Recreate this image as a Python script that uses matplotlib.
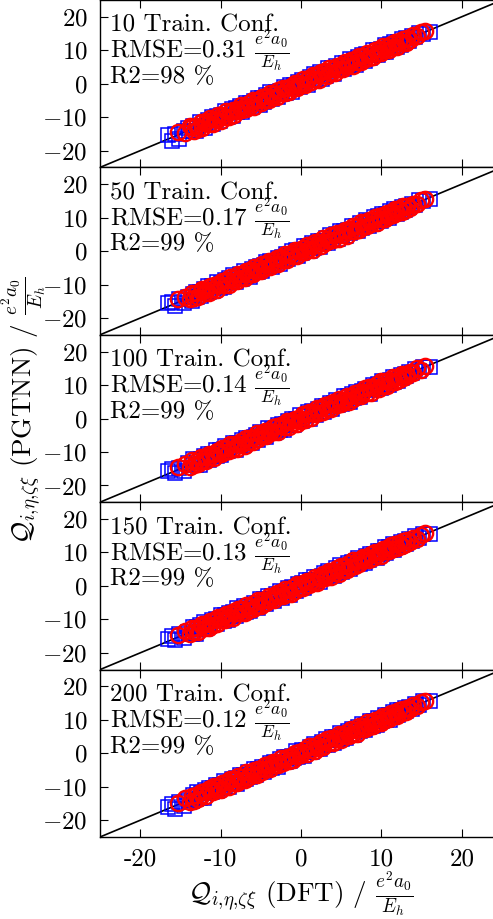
import numpy as np
import matplotlib
matplotlib.use("Agg")
import matplotlib.pyplot as plt

# -----------------------------
# Data
# -----------------------------
TRAIN_CONF = [10, 50, 100, 150, 200]
RMSE = [0.31, 0.17, 0.14, 0.13, 0.12]
R2 = [98, 99, 99, 99, 99]

# DFT reference values, set A (blue squares)
blue_dft = [
    -16.6, -16.1, -15.7, -15.2, -14.6, -14.1, -13.6, -13.4, -13.1, -12.9,
    -12.6, -12.4, -12.1, -11.9, -11.6, -11.4, -11.1, -10.9, -10.6, -10.4,
    -10.1, -9.9, -9.6, -9.4, -9.1, -8.9, -8.6, -8.4, -8.1, -7.9,
    -7.6, -7.4, -7.1, -6.9, -6.6, -6.4, -6.1, -5.9, -5.6, -5.4,
    -5.1, -4.9, -4.6, -4.4, -4.1, -3.9, -3.6, -3.4, -3.1, -2.9,
    -2.6, -2.4, -2.1, -1.9, -1.6, -1.4, -1.1, -0.9, -0.6, -0.4,
    -0.1, 0.1, 0.4, 0.6, 0.9, 1.1, 1.4, 1.6, 1.9, 2.1,
    2.4, 2.6, 2.9, 3.1, 3.4, 3.6, 3.9, 4.1, 4.4, 4.6,
    4.9, 5.1, 5.4, 5.6, 5.9, 6.1, 6.4, 6.6, 6.9, 7.1,
    7.4, 7.6, 7.9, 8.1, 8.4, 8.6, 8.9, 9.1, 9.4, 9.6,
    9.9, 10.1, 10.4, 10.6, 10.9, 11.1, 11.4, 11.6, 11.9, 12.1,
    12.4, 12.6, 12.9, 13.1, 13.4, 13.8, 14.2, 14.7, 15.2, 16.1,
]

# DFT reference values, set B (red circles)
red_dft = [
    -15.3, -14.4, -13.8, -13.5, -13.3, -13.0, -12.8, -12.5, -12.3, -12.0,
    -11.8, -11.5, -11.3, -11.0, -10.8, -10.5, -10.3, -10.0, -9.8, -9.5,
    -9.3, -9.0, -8.8, -8.5, -8.3, -8.0, -7.8, -7.5, -7.3, -7.0,
    -6.8, -6.5, -6.3, -6.0, -5.8, -5.5, -5.3, -5.0, -4.8, -4.5,
    -4.3, -4.0, -3.8, -3.5, -3.3, -3.0, -2.8, -2.5, -2.3, -2.0,
    -1.8, -1.5, -1.3, -1.0, -0.8, -0.5, -0.3, 0.0, 0.2, 0.5,
    0.7, 1.0, 1.2, 1.5, 1.7, 2.0, 2.2, 2.5, 2.7, 3.0,
    3.2, 3.5, 3.7, 4.0, 4.2, 4.5, 4.7, 5.0, 5.2, 5.5,
    5.7, 6.0, 6.2, 6.5, 6.7, 7.0, 7.2, 7.5, 7.7, 8.0,
    8.2, 8.5, 8.7, 9.0, 9.2, 9.5, 9.7, 10.0, 10.2, 10.5,
    10.7, 11.0, 11.2, 11.5, 11.7, 12.0, 12.2, 12.5, 12.7, 13.0,
    13.2, 13.5, 13.9, 14.4, 14.9, 15.4,
]

# PGTNN minus DFT, per training-set size
blue_err_10 = [
    1.2, -0.9, 0.7, -1.3, 0.4, 1.0, -0.6, 0.9, -1.1, 0.3,
    1.1, -0.8, 0.5, -1.2, 0.9, -0.4, 1.3, -1.0, 0.2, 0.8,
    -1.1, 0.6, -0.3, 1.2, -0.9, 0.4, 1.0, -1.3, 0.7, -0.5,
    0.9, -1.1, 0.3, 1.2, -0.7, 0.5, -1.0, 0.8, -0.2, 1.1,
    -1.2, 0.6, -0.8, 1.0, -0.4, 1.3, -0.9, 0.2, 0.7, -1.1,
    0.5, -0.6, 1.2, -1.0, 0.3, 0.9, -1.3, 0.6, -0.3, 1.0,
    -0.8, 1.1, -0.5, 0.4, -1.2, 0.8, -0.2, 1.2, -0.9, 0.5,
    1.0, -1.1, 0.3, -0.7, 1.3, -0.4, 0.7, -1.2, 0.9, -0.6,
    0.2, 1.1, -1.0, 0.6, -0.3, 1.2, -0.8, 0.4, -1.3, 0.9,
    -0.5, 1.0, -1.1, 0.7, 0.3, -0.9, 1.2, -0.4, 0.8, -1.0,
    0.6, -0.7, 1.1, -1.2, 0.4, 0.9, -0.5, 1.0, -0.9, 0.3,
    -0.8, 0.7, -0.4, 0.6, -0.5, 0.4, -0.3, 0.5, -0.4, -0.6,
]
blue_err_50 = [
    1.1, 0.8, -0.6, 0.9, -1.0, 0.5, -1.2, 0.7, 1.0, -0.8,
    0.4, -1.1, 0.9, -0.3, 1.2, -0.7, 0.6, -1.0, 0.2, 1.1,
    -0.9, 0.5, -1.2, 0.8, -0.4, 1.0, -0.6, 1.3, -1.1, 0.3,
    0.7, -0.9, 1.1, -0.5, 0.2, -1.2, 0.9, -0.3, 1.0, -0.8,
    0.6, -1.0, 0.4, 1.2, -0.7, 0.8, -1.1, 0.5, -0.2, 0.9,
    -1.3, 0.7, -0.5, 1.1, -0.9, 0.3, 1.0, -0.6, 0.8, -1.0,
    0.4, -0.8, 1.2, -0.3, 0.6, -1.1, 0.9, -0.7, 0.2, 1.0,
    -1.2, 0.5, -0.4, 0.9, -1.0, 1.1, -0.6, 0.3, 0.8, -0.9,
    1.2, -0.5, 0.7, -1.1, 0.4, -0.8, 1.0, -0.3, 0.6, -1.2,
    0.9, -0.6, 0.3, 1.1, -1.0, 0.5, -0.7, 1.2, -0.4, 0.8,
    -0.9, 1.0, -0.5, 0.6, -1.1, 0.8, -0.2, 0.9, -0.8, 0.4,
    -0.6, 0.7, -0.5, 0.5, -0.3, 0.4, -0.5, 0.6, -0.3, -0.4,
]
blue_err_100 = [
    0.9, 1.0, -0.7, 0.5, -1.1, 0.8, -0.4, 1.2, -0.9, 0.6,
    -1.2, 0.3, 1.0, -0.6, 0.9, -1.0, 0.4, -0.3, 1.1, -0.8,
    0.7, -1.1, 0.5, 1.2, -0.5, 0.2, -0.9, 1.0, -1.2, 0.6,
    -0.4, 0.9, -0.8, 1.1, -0.2, 0.7, -1.3, 0.5, 0.8, -1.0,
    1.0, -0.6, 0.3, -1.1, 1.2, -0.4, 0.6, -0.9, 0.4, 1.1,
    -0.7, 0.8, -1.2, 0.2, 0.9, -0.5, 1.1, -1.0, 0.6, -0.3,
    1.2, -0.8, 0.4, -0.6, 1.0, -1.1, 0.7, 0.3, -0.9, 0.8,
    -0.5, 1.1, -1.0, 0.6, -0.2, 0.9, -1.2, 0.5, 1.0, -0.7,
    0.3, -0.9, 1.2, -0.4, 0.7, -1.1, 0.8, -0.6, 1.1, -0.3,
    -1.0, 0.6, 0.9, -0.8, 0.4, -1.2, 1.0, -0.5, 0.2, 0.8,
    -0.9, 1.1, -0.4, 0.7, -1.0, 0.5, 0.9, -0.7, 0.6, -0.8,
    0.5, -0.6, 0.4, -0.5, 0.6, -0.3, 0.5, -0.4, 0.3, -0.6,
]
blue_err_150 = [
    0.8, 1.1, -0.6, 0.7, -1.0, 0.4, -0.8, 1.1, -1.2, 0.5,
    0.9, -0.4, 1.2, -1.0, 0.3, -0.7, 1.0, -0.5, 0.8, -1.1,
    0.2, 1.1, -0.9, 0.6, -1.2, 0.9, -0.3, 0.5, -1.0, 1.2,
    -0.6, 0.4, 1.0, -0.8, 0.7, -1.1, 0.3, 0.9, -0.5, -1.2,
    1.1, -0.3, 0.6, -0.9, 1.2, -0.7, 0.5, -1.0, 0.8, -0.2,
    1.0, -1.1, 0.4, -0.6, 0.9, -1.3, 0.7, 0.2, -0.8, 1.1,
    -0.5, 0.8, -1.0, 1.2, -0.4, 0.6, -0.9, 1.0, -0.3, 0.7,
    -1.2, 0.5, 0.9, -0.7, 1.1, -0.2, 0.4, -1.1, 0.8, -0.6,
    1.2, -0.9, 0.3, -0.5, 1.0, -1.0, 0.7, -0.4, 0.6, 1.1,
    -0.8, 0.2, -1.2, 0.9, -0.6, 1.0, -0.3, 0.5, -1.1, 0.8,
    0.4, -0.7, 1.1, -0.9, 0.6, -0.5, 1.0, -0.8, 0.3, -0.6,
    0.7, -0.5, 0.4, -0.6, 0.5, -0.4, 0.6, -0.3, 0.4, -0.5,
]
blue_err_200 = [
    0.7, 0.9, -0.8, 0.6, -1.1, 0.3, -0.7, 1.0, -0.5, 1.2,
    -0.9, 0.5, -1.2, 0.8, -0.3, 1.1, -0.6, 0.4, 1.0, -1.0,
    0.6, -0.4, 1.2, -0.8, 0.2, -1.1, 0.9, -0.5, 0.7, -1.3,
    1.0, -0.2, 0.5, -0.9, 1.1, -0.7, 0.3, 1.2, -1.0, 0.6,
    -0.5, 0.8, -1.1, 0.4, -0.6, 1.0, -0.9, 0.7, 0.2, -1.2,
    0.9, -0.3, 1.1, -0.8, 0.6, -1.0, 0.4, -0.5, 1.2, -0.7,
    0.3, 1.0, -1.2, 0.5, -0.4, 0.8, -0.9, 1.1, -0.6, 0.2,
    -1.0, 0.7, -0.3, 1.2, -0.8, 0.4, 0.9, -1.1, 0.6, -0.5,
    1.1, -0.7, 0.2, -1.0, 0.8, -0.4, 1.0, -1.2, 0.5, 0.7,
    -0.6, 1.2, -0.9, 0.3, -0.5, 1.1, -0.8, 0.6, -1.0, 0.9,
    0.4, -0.6, 1.0, -0.7, 0.5, -1.1, 0.8, -0.4, 0.9, -0.8,
    0.6, -0.4, 0.5, -0.6, 0.3, -0.5, 0.4, -0.4, 0.5, -0.5,
]

red_err_10 = [
    0.9, -0.4, 1.1, 0.7, -0.9, 0.5, -0.7, 1.0, -1.0, 0.3,
    0.8, -0.6, 1.1, -0.9, 0.4, -0.2, 0.9, -1.1, 0.6, -0.5,
    1.0, -0.8, 0.3, 0.7, -1.0, 0.5, -0.4, 1.1, -0.7, 0.2,
    -0.9, 0.8, -0.5, 1.0, -1.1, 0.6, 0.3, -0.8, 0.9, -0.3,
    0.5, -1.0, 1.1, -0.6, 0.2, -0.9, 0.8, -0.4, 1.0, -0.7,
    0.4, -1.1, 0.7, -0.3, 0.9, -0.8, 0.6, -0.5, 1.1, -1.0,
    0.3, 0.8, -0.7, 1.0, -0.4, 0.5, -1.1, 0.9, -0.2, 0.7,
    -0.9, 1.1, -0.6, 0.4, -1.0, 0.8, -0.3, 0.6, -0.8, 1.0,
    -0.5, 0.2, 0.9, -1.1, 0.7, -0.4, 1.0, -0.9, 0.5, -0.6,
    1.1, -0.7, 0.3, -1.0, 0.8, -0.2, 0.6, -0.9, 1.0, -0.5,
    0.4, -0.8, 0.7, -0.6, 0.9, -1.0, 0.5, -0.3, 0.8, -0.7,
    0.5, -0.4, 0.6, -0.3, 0.4, 0.3,
]
red_err_50 = [
    1.0, 0.6, -0.5, 0.9, -0.8, 0.4, -1.0, 0.7, 1.1, -0.6,
    0.3, -0.9, 1.0, -0.4, 0.8, -1.1, 0.5, -0.2, 0.9, -0.7,
    0.6, -1.0, 1.1, -0.5, 0.3, -0.8, 1.0, -0.6, 0.4, -1.1,
    0.8, -0.3, 0.7, -0.9, 1.0, -0.4, 0.2, -1.0, 0.9, -0.6,
    0.5, 1.1, -0.8, 0.4, -0.7, 0.9, -1.1, 0.6, -0.3, 1.0,
    -0.9, 0.3, 0.8, -0.6, 1.1, -1.0, 0.5, -0.4, 0.7, -0.8,
    1.0, -0.5, 0.2, -1.1, 0.9, -0.3, 0.6, -0.9, 1.1, -0.7,
    0.4, -0.6, 1.0, -0.8, 0.5, 0.8, -1.0, 0.3, -0.5, 0.9,
    -1.1, 0.7, -0.2, 1.0, -0.7, 0.4, -0.9, 1.1, -0.4, 0.6,
    -0.8, 0.9, -0.6, 0.3, 1.0, -1.0, 0.7, -0.3, 0.5, -0.9,
    0.8, -0.4, 0.6, -0.7, 0.9, -0.5, 0.4, -0.8, 0.7, -0.6,
    0.4, -0.5, 0.3, -0.4, 0.5, 0.2,
]
red_err_100 = [
    0.8, 0.7, -0.6, 1.0, -0.7, 0.3, -0.9, 1.1, -0.4, 0.6,
    -1.0, 0.8, -0.3, 0.5, -1.1, 0.9, 0.2, -0.7, 1.0, -0.5,
    0.4, -0.8, 1.1, -0.6, 0.7, -1.0, 0.3, 0.9, -0.4, -1.1,
    1.0, -0.5, 0.6, -0.9, 0.2, 1.1, -0.8, 0.5, -0.3, 0.8,
    -1.0, 0.4, -0.6, 1.0, -0.7, 0.9, -1.1, 0.3, 0.7, -0.5,
    1.1, -0.9, 0.6, -0.2, 0.8, -1.0, 0.4, -0.6, 1.0, -0.8,
    0.5, 0.9, -1.1, 0.3, -0.5, 1.0, -0.7, 0.6, -0.9, 1.1,
    -0.4, 0.7, -1.0, 0.8, 0.2, -0.6, 1.1, -0.8, 0.4, -0.3,
    0.9, -1.1, 0.5, -0.7, 1.0, -0.4, 0.6, -0.9, 0.3, 1.0,
    -0.6, 0.8, -1.0, 0.4, -0.2, 0.9, -0.8, 1.1, -0.5, 0.7,
    -0.9, 0.6, -0.4, 0.8, -0.7, 0.5, -0.6, 0.9, -0.5, 0.4,
    -0.6, 0.5, -0.4, 0.6, -0.3, 0.3,
]
red_err_150 = [
    0.7, 0.8, -0.7, 0.9, -0.6, 0.4, -1.0, 0.8, 1.0, -0.5,
    0.3, -1.1, 0.9, -0.6, 0.7, -0.9, 1.1, -0.3, 0.5, -0.8,
    1.0, -0.4, 0.6, -1.1, 0.8, -0.2, 0.9, -0.7, 0.4, -1.0,
    1.1, -0.6, 0.3, -0.9, 0.7, -0.5, 1.0, -1.1, 0.5, 0.2,
    -0.8, 1.0, -0.4, 0.6, -1.0, 0.9, -0.3, 0.7, -0.7, 1.1,
    -0.5, 0.4, -1.1, 0.8, -0.6, 1.0, -0.2, 0.5, -0.9, 0.7,
    0.9, -0.8, 0.3, -0.5, 1.1, -1.0, 0.6, -0.4, 0.8, -0.7,
    0.2, 1.0, -0.9, 0.5, -0.3, 0.7, -1.1, 0.9, -0.6, 0.4,
    -1.0, 0.8, -0.5, 1.1, -0.7, 0.3, -0.8, 0.6, 1.0, -0.4,
    0.5, -0.9, 0.7, -0.6, 1.0, -0.3, 0.4, -1.0, 0.8, -0.2,
    0.6, -0.7, 0.9, -0.5, 0.7, -0.8, 0.5, -0.6, 0.8, -0.4,
    0.5, -0.3, 0.4, -0.5, 0.3, 0.4,
]
red_err_200 = [
    0.6, 0.9, -0.6, 0.8, -0.9, 0.5, -0.8, 1.0, -0.3, 0.7,
    -1.0, 0.4, 0.9, -0.7, 1.1, -0.5, 0.3, -0.9, 0.8, -0.4,
    0.6, -1.1, 1.0, -0.3, 0.5, -0.8, 0.9, -0.6, 0.2, -1.0,
    1.1, -0.7, 0.4, -0.5, 0.8, -1.1, 0.6, 0.3, -0.9, 1.0,
    -0.4, 0.7, -1.0, 0.9, -0.2, 0.5, -0.7, 1.1, -0.6, 0.3,
    0.8, -0.9, 0.6, -1.1, 1.0, -0.4, 0.7, -0.5, 0.2, 0.9,
    -0.8, 1.1, -0.3, 0.5, -1.0, 0.6, -0.6, 0.9, -0.7, 0.4,
    1.0, -0.5, 0.8, -0.9, 0.3, -0.2, 1.1, -1.0, 0.6, -0.4,
    0.7, -0.8, 1.0, -0.6, 0.4, -1.1, 0.9, -0.3, 0.5, -0.7,
    1.1, -0.6, 0.3, -0.9, 0.8, -0.4, 0.6, -1.0, 0.9, -0.5,
    0.4, -0.7, 0.8, -0.5, 0.6, -0.8, 0.7, -0.4, 0.5, -0.6,
    0.3, -0.4, 0.5, -0.3, 0.4, 0.3,
]

BLUE_ERR = [blue_err_10, blue_err_50, blue_err_100, blue_err_150, blue_err_200]
RED_ERR = [red_err_10, red_err_50, red_err_100, red_err_150, red_err_200]

TICKS = [-20, -10, 0, 10, 20]
X_TICK_LABELS = ["-20", "-10", "0", "10", "20"]
Y_TICK_LABELS = ["$-20$", "$-10$", "$0$", "$10$", "$20$"]

UNIT = r"$\frac{e^2a_0}{E_h}$"
QSYM = r"$\mathcal{Q}_{i{,}\eta{,}\zeta\xi}$"

# -----------------------------
# Style
# -----------------------------
plt.rcParams["font.family"] = "cmr10"
plt.rcParams["mathtext.fontset"] = "cm"
plt.rcParams["axes.unicode_minus"] = False
plt.rcParams["font.size"] = 18
LABEL_SIZE = 19.5

FIG_W, FIG_H = 4.93, 9.19
AX_LEFT = 100 / 493
AX_WIDTH = 402 / 493
AX_BOTTOM = 1 - 837 / 919
AX_HEIGHT = (1 - AX_BOTTOM) / 5

fig = plt.figure(figsize=(FIG_W, FIG_H), dpi=100)

for i in range(5):
    bottom = AX_BOTTOM + (4 - i) * AX_HEIGHT
    ax = fig.add_axes([AX_LEFT, bottom, AX_WIDTH, AX_HEIGHT])

    ax.axline((0, 0), slope=1, color="black", lw=1.2, zorder=1)

    bx = np.array(blue_dft)
    by = bx + np.array(BLUE_ERR[i])
    rx = np.array(red_dft)
    ry = rx + np.array(RED_ERR[i])

    ax.plot(bx, by, "s", mfc="none", mec="#0000ff", ms=10, mew=1.1, zorder=2)
    ax.plot(rx, ry, "o", mfc="none", mec="#ff0000", ms=11, mew=1.7, zorder=3)

    ax.set_xlim(-25, 25)
    ax.set_ylim(-25, 25)
    ax.set_xticks(TICKS)
    ax.set_yticks(TICKS)
    ax.set_yticklabels(Y_TICK_LABELS)
    if i == 4:
        ax.set_xticklabels(X_TICK_LABELS)
    else:
        ax.set_xticklabels([])

    ax.tick_params(direction="in", top=True, right=True, length=6, width=0.8)
    ax.tick_params(axis="y", pad=9)
    ax.tick_params(axis="x", pad=8)
    for sp in ax.spines.values():
        sp.set_linewidth(1.0)

    ax.text(0.025, 0.81, f"{TRAIN_CONF[i]} Train. Conf.",
            transform=ax.transAxes, ha="left", va="baseline")
    ax.text(0.025, 0.652, f"RMSE={RMSE[i]:.2f} " + UNIT,
            transform=ax.transAxes, ha="left", va="baseline")
    ax.text(0.025, 0.503, f"R2={R2[i]} %",
            transform=ax.transAxes, ha="left", va="baseline")

    if i == 4:
        ax.set_xlabel(QSYM + " (DFT) / " + UNIT, fontsize=LABEL_SIZE, labelpad=0)

fig.text(0.05, 0.553, QSYM + " (PGTNN) / " + UNIT, fontsize=LABEL_SIZE,
         rotation=90, ha="center", va="center")

fig.savefig("out.png", dpi=100)
